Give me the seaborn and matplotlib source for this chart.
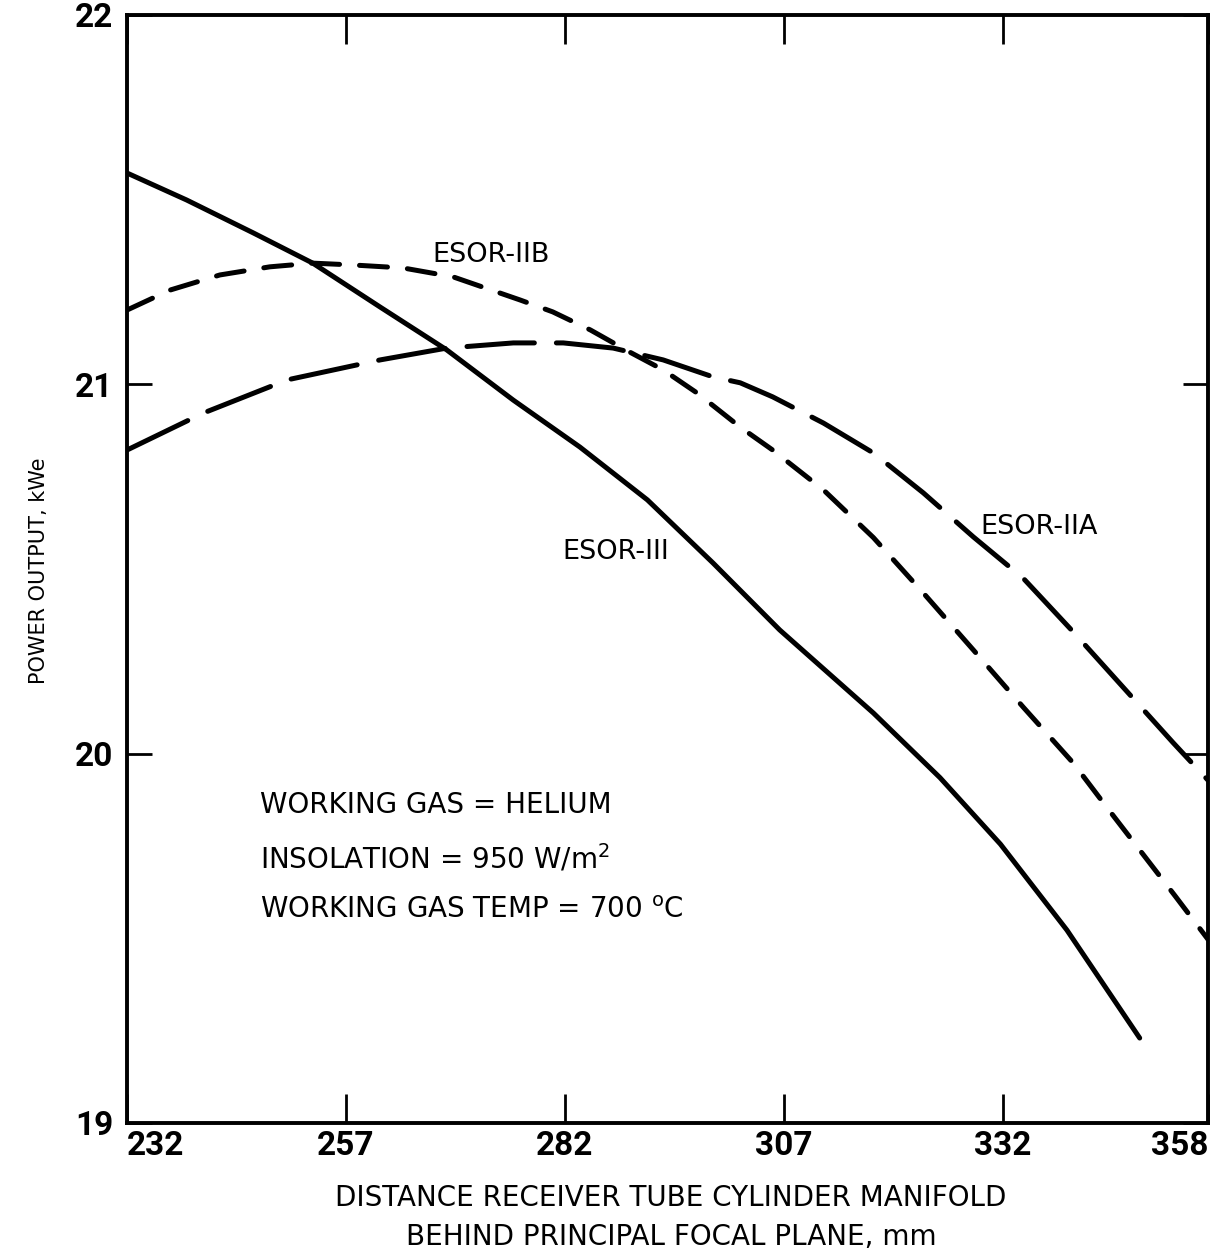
import matplotlib
matplotlib.use("Agg")
import matplotlib.pyplot as plt
import seaborn as sns
import pandas as pd

# ---- data ----
esor3_x = [232, 238.8, 246.4, 253.2, 260.9, 268.5, 276.1, 283.7, 291.4, 298.9, 306.5, 317.2, 324.8, 331.7, 339.3, 347.6]
esor3_y = [21.572, 21.499, 21.410, 21.328, 21.209, 21.093, 20.957, 20.830, 20.687, 20.516, 20.335, 20.110, 19.935, 19.755, 19.522, 19.230]

esor2b_x = [232, 236.9, 242.6, 248.3, 253.2, 257.8, 263.5, 269.2, 276.9, 280.6, 284.9, 289.4, 293.2, 297.1, 302.0,
            305.7, 311.5, 317.2, 322.9, 328.6, 334.3, 340.0, 343.9, 351.7, 355.4]
esor2b_y = [21.201, 21.255, 21.296, 21.318, 21.328, 21.323, 21.315, 21.291, 21.228, 21.196, 21.147, 21.087, 21.039, 20.976, 20.884,
            20.822, 20.714, 20.585, 20.435, 20.281, 20.126, 19.975, 19.853, 19.613, 19.497]

esor2a_x = [232, 240.7, 250.3, 260.9, 268.5, 276.1, 281.8, 287.5, 293.2, 298.9, 302.0, 305.7, 311.5, 317.2, 322.9,
            328.6, 334.3, 340.0, 345.7, 351.4, 355.4]
esor2a_y = [20.822, 20.922, 21.012, 21.066, 21.098, 21.112, 21.112, 21.098, 21.066, 21.020, 21.004, 20.966, 20.895, 20.814, 20.706,
            20.587, 20.475, 20.330, 20.180, 20.030, 19.928]

series_names = ["ESOR-III", "ESOR-IIB", "ESOR-IIA"]
x_tick_values = [232, 257, 282, 307, 332]
x_tick_labels = ["232", "257", "282", "307", "332", "358"]
y_tick_values = [19, 20, 21, 22]
y_tick_labels = ["19", "20", "21", "22"]

X_MIN, X_MAX = 232, 355.4
Y_MIN, Y_MAX = 19, 22

df = pd.concat([
    pd.DataFrame({"x": esor3_x, "y": esor3_y, "series": series_names[0]}),
    pd.DataFrame({"x": esor2b_x, "y": esor2b_y, "series": series_names[1]}),
    pd.DataFrame({"x": esor2a_x, "y": esor2a_y, "series": series_names[2]}),
], ignore_index=True)

sns.set_theme(style="white")
plt.rcParams["font.family"] = ["DejaVu Sans"]

fig = plt.figure(figsize=(12.18, 12.55), dpi=100)
ax = fig.add_axes([0.1043, 0.1052, 0.8875, 0.8829])

sns.lineplot(data=df, x="x", y="y", style="series", ax=ax, color="black",
             linewidth=3.6, sort=False, legend=False,
             dashes={"ESOR-III": "", "ESOR-IIB": (5.6, 4.0), "ESOR-IIA": (13.5, 4.4)},
             style_order=series_names, dash_capstyle="round", solid_capstyle="round")

ax.set_xlim(X_MIN, X_MAX)
ax.set_ylim(Y_MIN, Y_MAX)

ax.set_xticks(x_tick_values + [X_MAX])
ax.set_xticklabels(x_tick_labels)
ax.set_yticks(y_tick_values)
ax.set_yticklabels(y_tick_labels)

tick_fp = matplotlib.font_manager.FontProperties(family="Roboto", weight="bold", size=24)
for lbl in ax.get_xticklabels() + ax.get_yticklabels():
    lbl.set_fontproperties(tick_fp)
    lbl.set_color("black")
xl = ax.get_xticklabels()
xl[0].set_horizontalalignment("left")
xl[-1].set_horizontalalignment("right")

ax.tick_params(axis="x", direction="in", length=21, width=2, top=True, bottom=True, pad=5, color="black")
ax.tick_params(axis="y", direction="in", length=18, width=2, left=True, right=True, pad=10, color="black")

for sp in ax.spines.values():
    sp.set_color("black")
    sp.set_linewidth(2.8)

txt_font = dict(family="DejaVu Sans", color="black")
ax.text(266.8, 21.350, "ESOR-IIB", fontsize=19.5, va="center", ha="left", **txt_font)
ax.text(329.4, 20.614, "ESOR-IIA", fontsize=19.5, va="center", ha="left", **txt_font)
ax.text(281.7, 20.546, "ESOR-III", fontsize=19.5, va="center", ha="left", **txt_font)

ax.text(247.2, 19.861, "WORKING GAS = HELIUM", fontsize=20, va="center", ha="left", **txt_font)
ax.text(247.2, 19.717, "INSOLATION = 950 W/m$^2$", fontsize=20, va="center", ha="left", **txt_font)
ax.text(247.2, 19.577, "WORKING GAS TEMP = 700 $^{\\mathrm{o}}$C", fontsize=20, va="center", ha="left", **txt_font)

ax.set_ylabel("POWER OUTPUT, kWe", fontsize=15, color="black", family="DejaVu Sans")
ax.yaxis.set_label_coords(-0.072, 0.498)
fig.text(0.551, 1 - 1198 / 1255, "DISTANCE RECEIVER TUBE CYLINDER MANIFOLD",
         ha="center", va="center", fontsize=20, color="black")
fig.text(0.551, 1 - 1237 / 1255, "BEHIND PRINCIPAL FOCAL PLANE, mm",
         ha="center", va="center", fontsize=20, color="black")
ax.set_xlabel("")

fig.savefig("out.png", dpi=100, facecolor="white")
